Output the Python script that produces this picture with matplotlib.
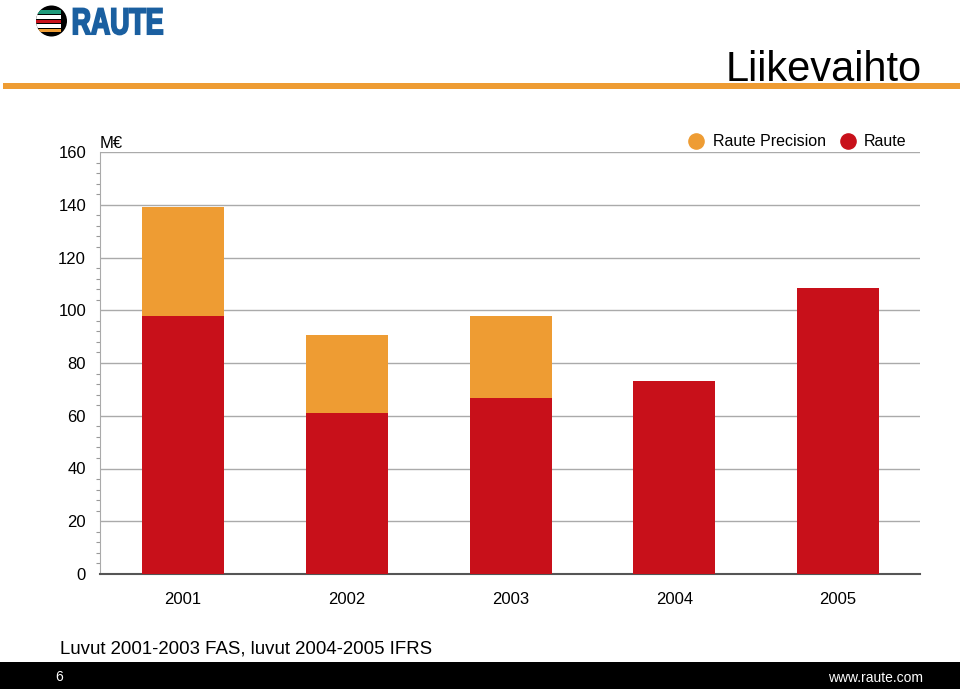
import matplotlib
matplotlib.use("Agg")
import matplotlib.pyplot as plt
from matplotlib.patches import Circle, Rectangle, PathPatch
from matplotlib.textpath import TextPath
from matplotlib.font_manager import FontProperties
from matplotlib.transforms import Affine2D
from matplotlib.ticker import MultipleLocator

plt.rcParams['font.family'] = ['Liberation Sans', 'DejaVu Sans']

years = ["2001", "2002", "2003", "2004", "2005"]
raute = [98, 61, 66.7, 73, 108.5]
raute_precision = [41, 29.5, 31, 0, 0]

yticks = [0, 20, 40, 60, 80, 100, 120, 140, 160]

RED = "#C8101A"
ORANGE = "#EE9C33"
BLUE = "#1A5FA0"

fig = plt.figure(figsize=(9.6, 6.89), dpi=100)

# overlay axes in pixel coordinates (y downward)
ov = fig.add_axes([0, 0, 1, 1], facecolor='none', zorder=5)
ov.set_xlim(0, 960); ov.set_ylim(689, 0); ov.axis('off')

# header orange line
ov.add_patch(Rectangle((3, 83), 957, 6, facecolor=ORANGE, edgecolor='none'))
fig.text(922/960, 1-70/689, "Liikevaihto", ha='right', va='center', fontsize=30, color='black')

# logo
circ = Circle((51.5, 21), 15.5, facecolor='black', edgecolor='none')
ov.add_patch(circ)
stripes = [(12, "#1F9A7A"), (17, "white"), (21.5, RED), (26, "white"), (30.5, ORANGE)]
for yy, c in stripes:
    r = Rectangle((35, yy - 2), 26, 3.6, facecolor=c, edgecolor='none')
    ov.add_patch(r)
    r.set_clip_path(circ)
tp = TextPath((0, 0), "RAUTE", size=1, prop=FontProperties(family='Liberation Sans', weight='bold'))
ext = tp.get_extents()
sx = 89 / ext.width
sy = 26 / ext.height
tr = Affine2D().translate(-ext.x0, -ext.y0).scale(sx, -sy).translate(73.5, 34.5)
ov.add_patch(PathPatch(tr.transform_path(tp), facecolor=BLUE, edgecolor=BLUE, linewidth=1.3))

# main axes
ax = fig.add_axes([100/960, 1-574/689, 820/960, 422/689])
x = list(range(len(years)))
ax.bar(x, raute, width=0.5, color=RED, zorder=3)
ax.bar(x, raute_precision, width=0.5, bottom=raute, color=ORANGE, zorder=3)

ax.set_ylim(0, 160)
ax.set_xlim(-0.507, 4.5)
ax.set_yticks(yticks)
ax.yaxis.set_minor_locator(MultipleLocator(4))
ax.set_yticklabels([str(v) for v in yticks], fontsize=12)
ax.tick_params(axis='y', which='major', length=0, pad=10)
ax.tick_params(axis='y', which='minor', length=3, color='#999999', width=0.8, direction='out')
ax.set_xticks(x)
ax.set_xticklabels(years, fontsize=12)
ax.tick_params(axis='x', length=0, pad=13)
ax.grid(axis='y', which='major', color='#AAAAAA', linewidth=1, zorder=0)
for s in ['top', 'right']:
    ax.spines[s].set_visible(False)
ax.spines['left'].set_color('#AAAAAA')
ax.spines['bottom'].set_color('#555555')
ax.spines['bottom'].set_linewidth(1.5)

fig.text(100/960, 1-143/689, "M€", ha='left', va='center', fontsize=12)

# legend
ov.scatter([696], [141], s=120, color=ORANGE)
ov.scatter([848], [141], s=120, color=RED)
fig.text(713/960, 1-142/689, "Raute Precision", ha='left', va='center', fontsize=11.5)
fig.text(864/960, 1-142/689, "Raute", ha='left', va='center', fontsize=11.5)

# footer
fig.text(60/960, 1-649/689, "Luvut 2001-2003 FAS, luvut 2004-2005 IFRS", ha='left', va='center', fontsize=13.4)
ov.add_patch(Rectangle((0, 662), 960, 27, facecolor='black', edgecolor='none'))
fig.text(55/960, 1-677/689, "6", ha='left', va='center', fontsize=10, color='white', zorder=10)
fig.text(923/960, 1-678/689, "www.raute.com", ha='right', va='center', fontsize=10, color='white', zorder=10)

fig.savefig("out.png", dpi=100)
